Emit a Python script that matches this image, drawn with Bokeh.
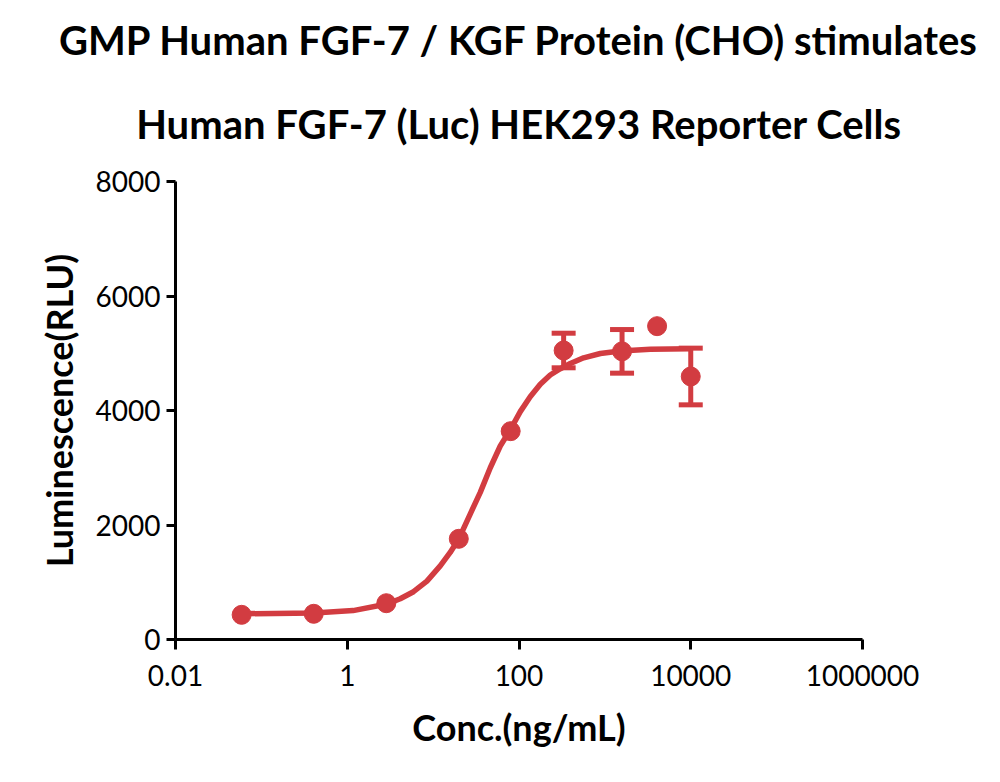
from bokeh.plotting import figure
from bokeh.models import (ColumnDataSource, Whisker, TeeHead, FixedTicker,
                          CustomJSTickFormatter, Title, Range1d)
from bokeh.embed import file_html
from bokeh.resources import INLINE

# ---- data ----
conc = [0.0589, 0.407, 2.85, 19.9, 80.0, 331.0, 1585.0, 4055.0, 10000.0]
mean_rlu = [431, 449, 634, 1759, 3639, 5048, 5033, 5473, 4594]
err_rlu = [0, 0, 0, 0, 0, 302, 381, 0, 495]

# fitted curve
fit_conc = [0.0589, 0.411, 1.17, 2.91, 4.14, 5.91, 8.47, 12.1, 15.8, 20.1, 27.1,
            35.4, 46.3, 60.5, 79.2, 103.5, 135.0, 177.0, 231.0, 303.0, 396.0,
            566.0, 885.0, 1514.0, 3381.0, 9886.0]
fit_rlu = [449, 464, 505, 620, 712, 835, 1020, 1285, 1520, 1770, 2196,
           2570, 3000, 3380, 3665, 3980, 4240, 4460, 4620, 4730, 4820,
           4920, 4995, 5040, 5070, 5080]

x_ticks = [0.01, 1, 100, 10000, 1000000]
x_tick_labels = ["0.01", "1", "100", "10000", "1000000"]
y_ticks = [0, 2000, 4000, 6000, 8000]

title_lines = ["GMP Human FGF-7 / KGF Protein (CHO) stimulates",
               "Human FGF-7 (Luc) HEK293 Reporter Cells"]
x_label = "Conc.(ng/mL)"
y_label = "Luminescence(RLU)"

RED = "#D23C41"
FONT = "Lato"

p = figure(width=1000, height=782, x_axis_type="log",
           x_range=Range1d(0.01, 1000000), y_range=Range1d(0, 8000),
           output_backend="svg", toolbar_location=None,
           min_border_left=175, min_border_right=138,
           min_border_top=181, min_border_bottom=143)
p.outline_line_color = None
p.grid.visible = False
p.background_fill_color = "white"
p.border_fill_color = "white"

# curve and points
p.line(fit_conc, fit_rlu, line_color=RED, line_width=5.5, line_join="round")
src = ColumnDataSource(dict(x=conc, y=mean_rlu))
p.scatter("x", "y", source=src, size=19, color=RED, line_color=RED)

ex = [c for c, e in zip(conc, err_rlu) if e > 0]
eu = [m + e for m, e in zip(mean_rlu, err_rlu) if e > 0]
el = [m - e for m, e in zip(mean_rlu, err_rlu) if e > 0]
esrc = ColumnDataSource(dict(x=ex, upper=eu, lower=el))
wh = Whisker(base="x", upper="upper", lower="lower", source=esrc,
             line_color=RED, line_width=5,
             upper_head=TeeHead(size=24, line_color=RED, line_width=5),
             lower_head=TeeHead(size=24, line_color=RED, line_width=5))
p.add_layout(wh)

# axes
for ax in (p.xaxis[0], p.yaxis[0]):
    ax.axis_line_width = 3
    ax.axis_line_color = "black"
    ax.major_tick_line_width = 3
    ax.major_tick_line_color = "black"
    ax.major_tick_in = 0
    ax.minor_tick_line_color = None
    ax.major_label_text_font = FONT
    ax.major_label_text_font_size = "28px"
    ax.major_label_text_color = "black"
    ax.axis_label_text_font = FONT
    ax.axis_label_text_font_style = "bold"
    ax.axis_label_text_font_size = "36px"
    ax.axis_label_text_color = "black"

p.xaxis.ticker = FixedTicker(ticks=x_ticks)
p.xaxis.formatter = CustomJSTickFormatter(args=dict(tvals=x_ticks, tlabels=x_tick_labels), code="""
let best = 0, bd = Infinity;
for (let i = 0; i < tvals.length; i++) {
  const d = Math.abs(Math.log10(tick) - Math.log10(tvals[i]));
  if (d < bd) { bd = d; best = i; }
}
return tlabels[best];
""")
p.xaxis.major_tick_out = 10
p.xaxis.major_label_standoff = 15
p.xaxis.axis_label = x_label
p.xaxis.axis_label_standoff = 16

p.yaxis.ticker = FixedTicker(ticks=y_ticks)
p.yaxis.major_tick_out = 9
p.yaxis.major_label_standoff = 6
p.yaxis.axis_label = y_label
p.yaxis.axis_label_standoff = 12

# title (two lines); the title added last sits nearest the plot
p.title.text = title_lines[0]
p.title.align = "center"
p.title.standoff = 0
p.title.text_line_height = 0.6
p.title.text_font = FONT
p.title.text_font_style = "bold"
p.title.text_font_size = "40px"
p.title.text_color = "black"
p.add_layout(Title(text=title_lines[1], align="center", standoff=68,
                   text_font=FONT, text_font_style="bold",
                   text_font_size="40px", text_color="black"), "above")

open("out.html", "w").write(file_html(p, INLINE))
